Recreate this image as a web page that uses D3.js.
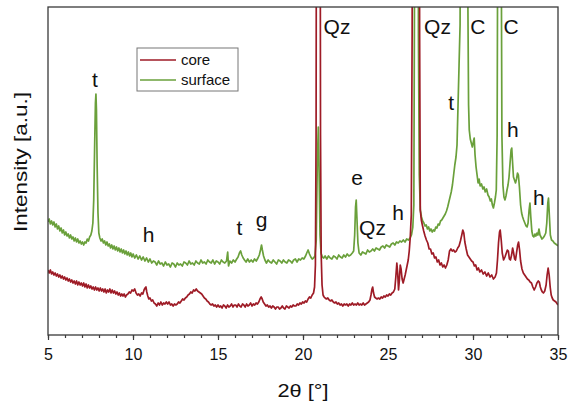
<!DOCTYPE html>
<html><head><meta charset="utf-8">
<script src="https://cdn.jsdelivr.net/npm/d3@7"></script>
<style>body{margin:0;background:#fff}</style>
</head><body>
<svg id="c" width="569" height="404"></svg>
<script>
// ---------- data ----------
const xTicks = [5, 10, 15, 20, 25, 30, 35];
const seriesNames = ["core", "surface"];
const seriesColors = ["#9e1b26", "#6aa03b"];

// surface: [2θ, intensity a.u.]
const surface = [
[5.00,113],[5.07,116],[5.14,111],[5.21,114],[5.28,110],[5.35,113],[5.42,108],[5.49,111],[5.56,106],[5.63,109],[5.70,104],[5.77,107],[5.84,102],[5.91,105],[5.98,100],[6.05,103],[6.12,99],[6.19,101],[6.26,97],[6.33,100],[6.40,96],[6.47,98],[6.54,94],[6.61,97],[6.68,93],[6.75,96],[6.82,92],[6.89,94],[6.96,91],[7.03,93],[7.10,90],[7.17,93],[7.24,92],[7.31,96],[7.38,94],[7.45,98],[7.52,100],[7.58,104],[7.64,112],[7.69,135],[7.74,185],[7.79,232],[7.82,241],[7.85,225],[7.89,170],[7.94,122],[7.99,102],[8.05,97],[8.12,94],[8.19,96],[8.26,92],[8.33,94],[8.40,90],[8.47,93],[8.54,89],[8.61,91],[8.68,87],[8.75,90],[8.82,86],[8.89,89],[8.96,85],[9.03,88],[9.10,84],[9.17,87],[9.24,83],[9.31,86],[9.38,82],[9.45,85],[9.52,81],[9.59,84],[9.66,80],[9.73,83],[9.80,79],[9.87,82],[9.94,78],[10.01,81],[10.1,77],[10.2,80],[10.3,76],[10.4,79],[10.5,75],[10.6,78],[10.7,74],[10.8,77],[10.9,73],[11.0,76],[11.1,72],[11.2,74],[11.3,73],[11.4,70],[11.5,74],[11.6,71],[11.7,72],[11.8,69],[11.9,73],[12.0,70],[12.1,71],[12.2,68],[12.3,72],[12.4,71],[12.5,68],[12.6,72],[12.7,70],[12.8,71],[12.9,69],[13.0,73],[13.1,72],[13.2,70],[13.3,74],[13.4,71],[13.5,72],[13.6,70],[13.7,74],[13.8,72],[13.9,71],[14.0,75],[14.1,72],[14.2,73],[14.3,71],[14.4,75],[14.5,73],[14.6,72],[14.7,75],[14.8,71],[14.9,74],[15.0,73],[15.1,71],[15.2,75],[15.3,73],[15.4,72],[15.5,74],[15.57,83],[15.62,69],[15.7,74],[15.8,72],[15.9,75],[16.0,73],[16.1,76],[16.18,78],[16.26,82],[16.33,84],[16.4,80],[16.48,77],[16.56,75],[16.65,73],[16.75,76],[16.85,73],[16.95,75],[17.05,73],[17.15,76],[17.25,74],[17.35,77],[17.43,80],[17.5,85],[17.56,90],[17.61,85],[17.68,79],[17.76,75],[17.85,72],[17.95,75],[18.05,73],[18.15,72],[18.25,75],[18.35,73],[18.45,71],[18.55,75],[18.65,74],[18.75,72],[18.85,75],[18.95,73],[19.05,72],[19.15,75],[19.25,74],[19.35,72],[19.45,75],[19.55,76],[19.65,73],[19.75,76],[19.85,75],[19.95,77],[20.05,76],[20.15,79],[20.22,82],[20.3,85],[20.38,81],[20.46,78],[20.54,76],[20.62,77],[20.7,79],[20.78,95],[20.84,170],[20.9,208],[20.95,160],[21.0,100],[21.06,82],[21.14,78],[21.22,77],[21.3,79],[21.4,76],[21.5,79],[21.6,77],[21.7,76],[21.8,79],[21.9,78],[22.0,76],[22.1,80],[22.2,78],[22.3,77],[22.4,80],[22.5,78],[22.6,81],[22.7,79],[22.8,80],[22.9,82],[22.98,84],[23.04,100],[23.09,128],[23.13,135],[23.17,118],[23.23,92],[23.3,82],[23.4,80],[23.5,83],[23.6,82],[23.7,81],[23.8,85],[23.9,83],[24.0,84],[24.1,86],[24.2,84],[24.3,87],[24.4,86],[24.5,85],[24.6,88],[24.7,89],[24.8,87],[24.9,90],[25.0,89],[25.1,88],[25.2,91],[25.3,92],[25.4,90],[25.5,93],[25.6,92],[25.7,94],[25.8,93],[25.9,95],[26.0,93],[26.1,96],[26.2,95],[26.3,97],[26.38,100],[26.46,108],[26.52,130],[26.56,350],[26.6,700],[26.68,1000],[26.75,700],[26.79,300],[26.84,160],[26.9,125],[26.97,118],[27.04,114],[27.11,112],[27.18,109],[27.25,110],[27.32,106],[27.39,108],[27.46,104],[27.53,106],[27.6,103],[27.67,105],[27.74,104],[27.81,108],[27.88,107],[27.95,111],[28.02,110],[28.09,114],[28.16,115],[28.23,117],[28.3,119],[28.37,121],[28.44,124],[28.51,128],[28.58,133],[28.65,138],[28.72,143],[28.79,150],[28.86,160],[28.93,170],[29.0,178],[29.06,190],[29.12,230],[29.18,270],[29.24,310],[29.3,700],[29.48,1000],[29.66,700],[29.7,330],[29.74,230],[29.78,205],[29.84,196],[29.9,192],[29.96,188],[30.02,193],[30.07,197],[30.12,180],[30.18,168],[30.24,160],[30.3,152],[30.36,156],[30.42,149],[30.5,151],[30.58,146],[30.65,148],[30.72,143],[30.8,146],[30.88,140],[30.95,138],[31.02,134],[31.08,136],[31.14,130],[31.2,127],[31.26,132],[31.32,138],[31.37,145],[31.42,200],[31.47,500],[31.55,1000],[31.64,500],[31.7,200],[31.76,150],[31.82,138],[31.88,135],[31.94,139],[32.0,145],[32.06,150],[32.12,158],[32.18,172],[32.24,185],[32.28,187],[32.33,172],[32.38,158],[32.44,155],[32.5,152],[32.56,156],[32.62,162],[32.67,160],[32.73,148],[32.8,130],[32.86,122],[32.92,118],[32.98,115],[33.05,112],[33.12,109],[33.18,108],[33.24,112],[33.3,125],[33.35,132],[33.4,118],[33.46,104],[33.52,99],[33.58,98],[33.64,101],[33.7,99],[33.76,102],[33.82,100],[33.88,106],[33.94,100],[34.0,98],[34.06,96],[34.12,97],[34.2,99],[34.28,102],[34.34,112],[34.4,132],[34.44,137],[34.49,120],[34.55,100],[34.62,95],[34.7,94],[34.78,92],[34.86,91],[34.94,90],[35.0,89]
];

// core: [2θ, intensity a.u.]
const core = [
[5.00,65],[5.07,62],[5.14,65],[5.21,61],[5.28,63],[5.35,60],[5.42,62],[5.49,59],[5.56,61],[5.63,58],[5.70,60],[5.77,57],[5.84,59],[5.91,56],[5.98,58],[6.05,55],[6.12,57],[6.19,54],[6.26,56],[6.33,53],[6.40,55],[6.47,52],[6.54,54],[6.61,51],[6.68,54],[6.75,50],[6.82,53],[6.89,50],[6.96,52],[7.03,49],[7.10,52],[7.17,48],[7.24,51],[7.31,47],[7.38,50],[7.45,47],[7.52,49],[7.59,46],[7.66,48],[7.73,45],[7.80,48],[7.87,45],[7.94,47],[8.01,44],[8.08,47],[8.15,44],[8.22,46],[8.29,43],[8.36,46],[8.43,42],[8.5,45],[8.57,43],[8.64,46],[8.71,42],[8.78,45],[8.85,42],[8.92,44],[8.99,41],[9.06,43],[9.13,40],[9.2,42],[9.27,39],[9.34,41],[9.41,39],[9.48,41],[9.55,38],[9.62,40],[9.7,41],[9.78,43],[9.86,42],[9.94,45],[10.02,44],[10.1,46],[10.18,42],[10.26,40],[10.34,41],[10.42,39],[10.5,42],[10.58,41],[10.65,45],[10.71,47],[10.76,48],[10.81,43],[10.87,39],[10.93,36],[11.0,37],[11.08,34],[11.16,35],[11.24,32],[11.32,31],[11.4,29],[11.48,32],[11.56,30],[11.64,33],[11.72,30],[11.8,32],[11.88,31],[11.96,33],[12.04,31],[12.12,33],[12.2,30],[12.28,31],[12.36,29],[12.44,31],[12.52,30],[12.6,31],[12.68,33],[12.76,32],[12.84,34],[12.92,36],[13.0,35],[13.08,37],[13.16,38],[13.24,40],[13.32,41],[13.4,43],[13.48,42],[13.56,45],[13.64,44],[13.72,46],[13.8,44],[13.88,43],[13.96,42],[14.04,41],[14.12,39],[14.2,37],[14.28,36],[14.36,34],[14.44,33],[14.52,31],[14.6,30],[14.68,31],[14.76,29],[14.84,30],[14.92,28],[15.0,30],[15.08,28],[15.16,29],[15.24,27],[15.32,30],[15.4,29],[15.48,27],[15.56,30],[15.64,28],[15.72,29],[15.8,31],[15.88,28],[15.96,30],[16.04,30],[16.12,28],[16.2,31],[16.28,29],[16.36,28],[16.44,31],[16.52,30],[16.6,28],[16.68,31],[16.76,29],[16.84,30],[16.92,32],[17.0,29],[17.08,31],[17.16,30],[17.24,32],[17.32,31],[17.4,33],[17.47,36],[17.54,38],[17.6,36],[17.66,33],[17.74,31],[17.82,29],[17.9,30],[17.98,28],[18.06,29],[18.14,27],[18.22,29],[18.3,28],[18.38,26],[18.46,28],[18.54,28],[18.62,26],[18.7,27],[18.78,29],[18.86,27],[18.94,26],[19.02,29],[19.1,28],[19.18,27],[19.26,29],[19.34,28],[19.42,30],[19.5,29],[19.58,29],[19.66,31],[19.74,30],[19.82,32],[19.9,31],[19.98,33],[20.06,32],[20.14,34],[20.22,33],[20.3,36],[20.38,38],[20.46,37],[20.54,40],[20.62,42],[20.68,48],[20.73,70],[20.77,200],[20.8,600],[20.9,1000],[21.0,600],[21.03,200],[21.07,80],[21.12,50],[21.18,40],[21.24,38],[21.3,37],[21.38,36],[21.46,37],[21.54,35],[21.62,34],[21.7,35],[21.78,33],[21.86,32],[21.94,33],[22.02,31],[22.1,32],[22.18,30],[22.26,31],[22.34,29],[22.42,31],[22.5,30],[22.58,31],[22.66,29],[22.74,31],[22.82,30],[22.9,32],[22.98,30],[23.06,31],[23.14,30],[23.22,32],[23.3,30],[23.38,31],[23.46,30],[23.54,32],[23.62,30],[23.7,31],[23.78,32],[23.86,33],[23.94,35],[24.0,40],[24.06,46],[24.1,48],[24.15,42],[24.21,38],[24.28,37],[24.36,36],[24.44,37],[24.52,36],[24.6,38],[24.68,37],[24.76,39],[24.84,38],[24.92,40],[25.0,39],[25.08,41],[25.16,40],[25.24,42],[25.32,43],[25.4,46],[25.46,58],[25.52,72],[25.57,62],[25.62,45],[25.67,55],[25.72,70],[25.77,66],[25.83,56],[25.89,52],[25.95,56],[26.01,60],[26.07,65],[26.13,70],[26.19,75],[26.25,84],[26.31,98],[26.37,120],[26.42,300],[26.46,700],[26.65,1000],[26.82,700],[26.86,300],[26.9,125],[26.96,115],[27.02,110],[27.1,104],[27.18,99],[27.26,95],[27.34,92],[27.42,86],[27.5,86],[27.58,81],[27.66,82],[27.74,77],[27.82,78],[27.9,73],[27.98,75],[28.06,70],[28.14,72],[28.22,68],[28.3,70],[28.38,67],[28.46,70],[28.54,75],[28.62,84],[28.7,86],[28.78,84],[28.86,85],[28.94,83],[29.02,84],[29.1,87],[29.18,89],[29.26,94],[29.34,100],[29.4,105],[29.46,102],[29.52,93],[29.6,86],[29.68,80],[29.76,78],[29.84,76],[29.92,74],[30.0,73],[30.08,69],[30.16,70],[30.24,65],[30.32,67],[30.4,63],[30.5,65],[30.6,61],[30.7,63],[30.8,59],[30.9,62],[31.0,58],[31.1,60],[31.2,56],[31.3,58],[31.38,62],[31.44,75],[31.5,92],[31.56,103],[31.6,105],[31.66,95],[31.72,82],[31.8,75],[31.88,78],[31.96,82],[32.02,85],[32.08,84],[32.14,76],[32.2,75],[32.27,80],[32.33,87],[32.39,82],[32.45,76],[32.5,75],[32.56,82],[32.63,90],[32.68,93],[32.74,85],[32.8,74],[32.88,66],[32.96,62],[33.04,60],[33.12,58],[33.2,56],[33.28,55],[33.36,53],[33.44,52],[33.52,48],[33.6,45],[33.68,48],[33.76,52],[33.84,54],[33.9,53],[33.96,48],[34.02,45],[34.08,43],[34.14,42],[34.22,44],[34.3,50],[34.36,60],[34.42,67],[34.48,60],[34.54,48],[34.6,40],[34.66,37],[34.72,35],[34.8,34],[34.88,33],[34.96,31],[35.0,30]
];

// peak annotations: text, 2θ, intensity
const labelText = ["t","h","t","g","Qz","e","Qz","h","Qz","t","C","C","h","h"];
const labelPos2t = [7.76,10.91,16.26,17.56,22.0,23.18,24.09,25.59,27.91,28.71,30.29,32.24,32.35,33.88];
const labelPosI  = [248,93,100,108,301,150,100,115,301,225,301,301,198,130];

// ---------- drawing ----------
const svg = d3.select("#c");
const FONT = "'Liberation Sans', Arial, Helvetica, sans-serif";
const x = d3.scaleLinear().domain([5, 35]).range([48, 558]);
const y = d3.scaleLinear().domain([0, 328]).range([335, 7]);

svg.append("defs").append("clipPath").attr("id", "clip")
  .append("rect").attr("x", 48).attr("y", 7).attr("width", 510).attr("height", 328);

const line = d3.line().x(d => x(d[0])).y(d => y(d[1]));
const plot = svg.append("g").attr("clip-path", "url(#clip)");
plot.append("path").datum(surface).attr("d", line)
  .attr("fill", "none").attr("stroke", seriesColors[1]).attr("stroke-width", 1.7).attr("stroke-linejoin", "round");
plot.append("path").datum(core).attr("d", line)
  .attr("fill", "none").attr("stroke", seriesColors[0]).attr("stroke-width", 1.7).attr("stroke-linejoin", "round");

// frame
svg.append("rect").attr("x", 48).attr("y", 7).attr("width", 510).attr("height", 328)
  .attr("fill", "none").attr("stroke", "#3a3a3a").attr("stroke-width", 1.3);

// minor ticks
const minor = svg.append("g").attr("transform", "translate(0,335)")
  .call(d3.axisBottom(x).tickValues(d3.range(5, 36, 1)).tickSize(3).tickFormat(""));
minor.select(".domain").remove();
minor.selectAll("line").attr("stroke", "#3a3a3a").attr("stroke-width", 1.2);

// major ticks
const ax = svg.append("g").attr("transform", "translate(0,335)")
  .call(d3.axisBottom(x).tickValues(xTicks).tickSize(5).tickPadding(9).tickFormat(d3.format("d")));
ax.select(".domain").remove();
ax.selectAll("line").attr("stroke", "#3a3a3a").attr("stroke-width", 1.2);
ax.selectAll("text").attr("font-family", FONT).attr("font-size", 16).attr("fill", "#111");

// axis titles
svg.append("text").attr("x", 303).attr("y", 397).attr("text-anchor", "middle")
  .attr("font-family", FONT).attr("font-size", 19).attr("fill", "#111")
  .attr("textLength", 51).attr("lengthAdjust", "spacingAndGlyphs")
  .text("2θ [°]");
svg.append("text").attr("transform", "translate(27,162) rotate(-90)").attr("text-anchor", "middle")
  .attr("font-family", FONT).attr("font-size", 19).attr("fill", "#111")
  .attr("textLength", 140).attr("lengthAdjust", "spacingAndGlyphs")
  .text("Intensity [a.u.]");

// annotations
svg.append("g").selectAll("text").data(labelText).join("text")
  .attr("x", (d, i) => x(labelPos2t[i])).attr("y", (d, i) => y(labelPosI[i]))
  .attr("text-anchor", "middle").attr("font-family", FONT).attr("font-size", 21).attr("fill", "#111")
  .text(d => d);

// legend
const lg = svg.append("g");
lg.append("rect").attr("x", 137).attr("y", 48).attr("width", 101).attr("height", 43)
  .attr("fill", "#fff").attr("stroke", "#777").attr("stroke-width", 1);
seriesNames.forEach((n, i) => {
  const yy = 60 + i * 20;
  lg.append("line").attr("x1", 140).attr("x2", 176).attr("y1", yy).attr("y2", yy)
    .attr("stroke", seriesColors[i]).attr("stroke-width", 1.5);
  lg.append("text").attr("x", 181).attr("y", yy + 5).attr("font-family", FONT)
    .attr("font-size", 15).attr("fill", "#111").text(n);
});
</script>
</body></html>
